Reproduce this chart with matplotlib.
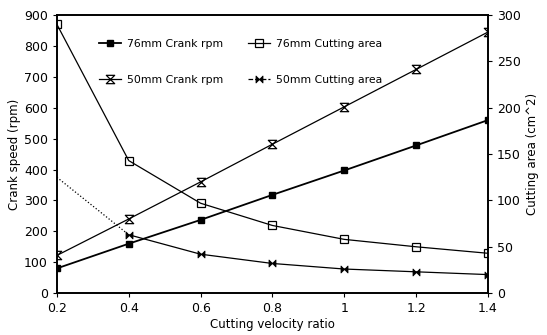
import matplotlib
matplotlib.use("Agg")
import matplotlib.pyplot as plt
from matplotlib.path import Path

x = [0.2, 0.4, 0.6, 0.8, 1.0, 1.2, 1.4]
crank76 = [80, 160, 237, 318, 397, 478, 560]
crank50 = [122, 240, 360, 482, 603, 724, 845]
area76 = [290, 143, 97, 73, 58, 50, 43]
area50 = [125, 63, 42, 32, 26, 23, 20]
xticklabels = ["0.2", "0.4", "0.6", "0.8", "1", "1.2", "1.4"]

plt.rcParams['font.family'] = ['DejaVu Sans']
fig = plt.figure(figsize=(5.47, 3.35), dpi=100)
ax = fig.add_axes([0.104, 0.125, 0.788, 0.830])
ax2 = ax.twinx()

hourglass = Path([(-1, 1), (1, 1), (-1, -1), (1, -1), (-1, 1)],
                 [Path.MOVETO, Path.LINETO, Path.LINETO, Path.LINETO, Path.CLOSEPOLY])
bowtie = Path([(-1, 1), (-1, -1), (1, 1), (1, -1), (-1, 1)],
              [Path.MOVETO, Path.LINETO, Path.LINETO, Path.LINETO, Path.CLOSEPOLY])

l1, = ax.plot(x, crank76, color='black', lw=1.3, marker='s', ms=5, mfc='black', label='76mm Crank rpm')
l2, = ax.plot(x, crank50, color='black', lw=0.9, marker=hourglass, ms=6, mfc='none', mew=0.9, label='50mm Crank rpm')
l3, = ax2.plot(x, area76, color='black', lw=0.9, marker='s', ms=6, mfc='none', mew=0.9, label='76mm Cutting area')
ax2.plot(x[:2], area50[:2], color='black', lw=0.9, ls=':')
ax2.plot(x[1:], area50[1:], color='black', lw=0.9, marker=bowtie, ms=5, mfc='black', mew=0.6)
l4, = ax2.plot([], [], color='black', lw=0.9, ls='--', marker=bowtie, ms=5, mfc='black', mew=0.6, label='50mm Cutting area')

ax.set_xlim(0.2, 1.4)
ax.set_ylim(0, 900)
ax2.set_ylim(0, 300)
ax.set_xticks(x)
ax.set_xticklabels(xticklabels)
ax.set_yticks(range(0, 901, 100))
ax2.set_yticks(range(0, 301, 50))
for a in (ax, ax2):
    a.tick_params(labelsize=9, length=3, width=0.8)
    for s in a.spines.values():
        s.set_linewidth(1.2)
ax.set_xlabel('Cutting velocity ratio', fontsize=8.5, labelpad=2)
ax.set_ylabel('Crank speed (rpm)', fontsize=8.5, labelpad=2)
ax2.set_ylabel('Cutting area (cm^2)', fontsize=8.5, labelpad=4)

ax.legend(handles=[l1, l2, l3, l4], ncol=2, loc='upper left', bbox_to_anchor=(0.075, 0.95),
          frameon=False, fontsize=7.8, labelspacing=2.4, columnspacing=2.3,
          handlelength=2.0, handletextpad=0.6)

fig.savefig('out.png', dpi=100)
